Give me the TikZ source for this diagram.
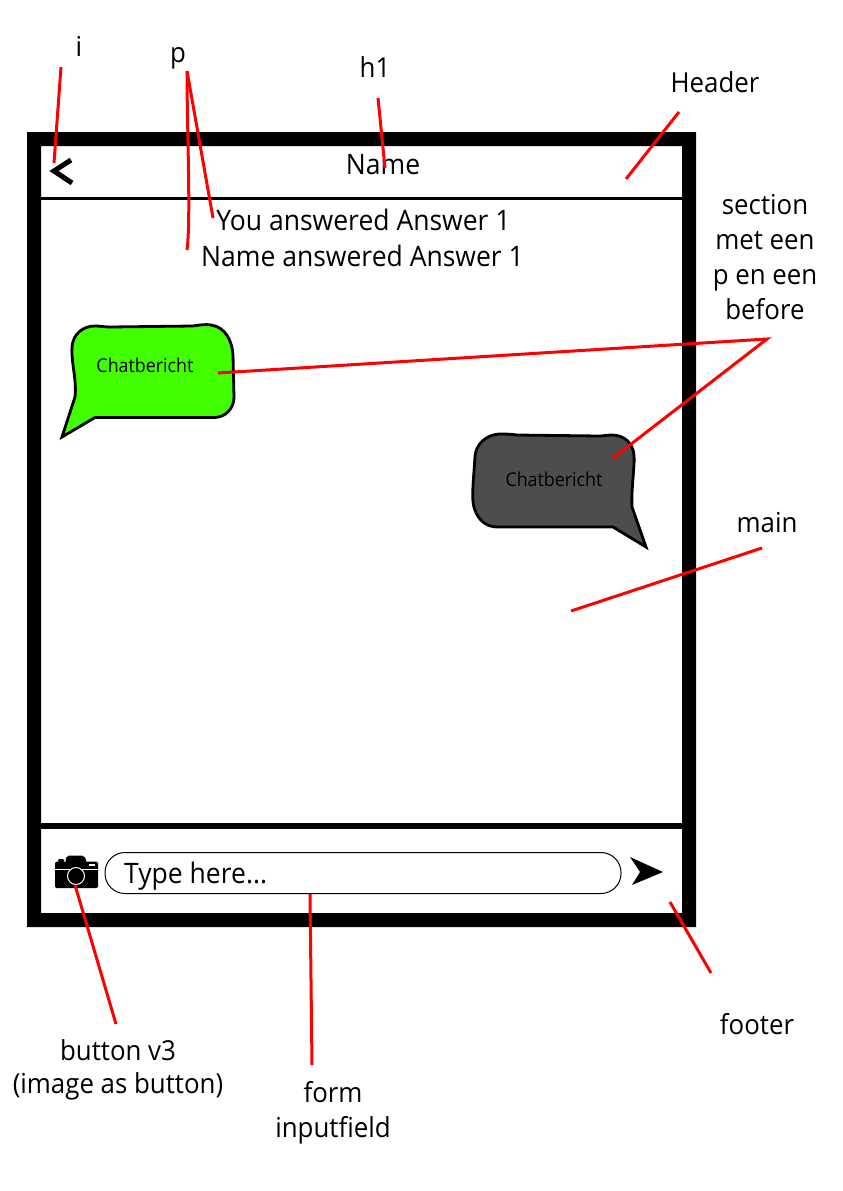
\documentclass[tikz,border=0pt]{standalone}
\usepackage{fontspec}
\setmainfont[FakeStretch=0.94]{Open Sans}
\newcommand{\fsA}{\fontsize{27.5}{32}\selectfont}
\newcommand{\fsB}{\fontsize{28.2}{32}\selectfont}
\newcommand{\fsC}{\fontsize{19}{23}\selectfont}
\definecolor{lead}{RGB}{255,0,0}
\definecolor{bubgreen}{RGB}{66,255,0}
\definecolor{bubgray}{RGB}{77,77,77}
\tikzset{
  lab/.style={font=\fsA,inner sep=0pt,text=black,anchor=base},
  txt/.style={font=\fsB,inner sep=0pt,text=black,anchor=base},
  chat/.style={font=\fsC,inner sep=0pt,text=black,anchor=base},
  leader/.style={draw=lead,line width=3pt},
  bubble/.style={draw=black,line width=2.8pt,line join=miter},
}
\begin{document}
\begin{tikzpicture}[x=1pt,y=-1pt]
\useasboundingbox (0,0) rectangle (843,1191);
% frame
\fill[black,even odd rule] (27,132) rectangle (696,927) (41,146) rectangle (682,913);
\coordinate (hl) at (41,198.5); \coordinate (hr) at (682,198.5);
\coordinate (fl) at (41,826); \coordinate (fr) at (682,826);
\draw[black,line width=3pt] (hl) -- (hr);
\draw[black,line width=6pt] (fl) -- (fr);
% back chevron
\draw[black,line width=5pt,miter limit=10] (71,160) -- (54,171) -- (72,183);
% texts
\node[txt] (name) at (383,174) {Name};
\node[txt] (you) at (363.5,230) {You answered Answer 1};
\node[txt] (nameans) at (362.5,266) {Name answered Answer 1};
% bubbles
\path[bubble,fill=bubgreen] (62,437) -- (75,397)
  .. controls (77,380) and (71,362) .. (72,347)
  .. controls (73,333) and (84,326) .. (95,326)
  .. controls (100,326) and (105,327) .. (110,327)
  -- (193,326)
  .. controls (200,325) and (205,324) .. (211,325)
  .. controls (225,327) and (232,340) .. (233,355)
  -- (234,397)
  .. controls (234,408) and (226,417.5) .. (214,417.5)
  -- (95,417.5) -- cycle;
\path[bubble,fill=bubgray] (646,547) -- (632,507)
  .. controls (631,490) and (635,465) .. (634,455)
  .. controls (633,444) and (625,435) .. (612,435)
  .. controls (607,435) and (603,436) .. (599,436)
  -- (517,435)
  .. controls (510,434) and (505,434) .. (499,434)
  .. controls (485,435) and (476,445) .. (475,456)
  .. controls (474,475) and (472,490) .. (473,502)
  .. controls (475,518) and (485,527) .. (497,527)
  -- (613,527) -- cycle;
\node[chat] (chatA) at (145,372) {Chatbericht};
\node[chat] (chatB) at (554,486) {Chatbericht};
% camera
\fill[black,rounded corners=1.5pt] (55,861.5) rectangle (98,888);
\fill[black,rounded corners=1pt] (58,862) -- (58,859) -- (64,859) -- (64,862) -- cycle;
\fill[black,rounded corners=2pt] (65,862) -- (67,855.5) -- (84,855.5) -- (87,862) -- cycle;
\fill[white] (55,869) rectangle (98,870);
\fill[white] (89,863.5) rectangle (95,865.5);
\node[circle,draw=white,fill=black,line width=1pt,minimum size=17pt,inner sep=0pt] (lens) at (76,876) {};
% input
\node[draw=black,line width=1pt,fill=white,rounded corners=20pt,minimum width=516pt,minimum height=41pt,inner sep=0pt] (input) at (363,873) {};
\node[txt,anchor=base west] (type) at (124,883) {Type here...};
% send
\fill[black] (630,857) -- (663,872) -- (632,885) -- (640,872) -- cycle;
% labels
\node[lab] (li) at (79,56) {i};
\node[lab] (lp) at (178,62) {p};
\node[lab] (lh) at (375,77) {h1};
\node[lab] (lheader) at (715,92) {Header};
\node[lab] (ls1) at (765,214) {section};
\node[lab] (ls2) at (765,249) {met een};
\node[lab] (ls3) at (765,284) {p en een};
\node[lab] (ls4) at (765,319) {before};
\node[lab] (lmain) at (767,532) {main};
\node[lab] (lfooter) at (757,1034) {footer};
\node[lab] (lb1) at (118,1060) {button v3};
\node[lab] (lb2) at (118,1093) {(image as button)};
\node[lab] (lf1) at (333,1102) {form};
\node[lab] (lf2) at (333,1137) {inputfield};
% leader ends
\coordinate (a1) at (61,67); \coordinate (a2) at (54,163);
\coordinate (b0) at (187,71); \coordinate (b1) at (213,218); \coordinate (b2) at (187,250);
\coordinate (c1) at (378,98); \coordinate (c2) at (385,168);
\coordinate (d1) at (679,112); \coordinate (d2) at (626,179);
\coordinate (e0) at (767,339); \coordinate (e1) at (218,373); \coordinate (e2) at (613,458);
\coordinate (f1) at (762,548); \coordinate (f2) at (571,611);
\coordinate (g1) at (670,902); \coordinate (g2) at (711,973);
\coordinate (h1) at (310,894); \coordinate (h2) at (312,1065);
\coordinate (k1) at (75,885); \coordinate (k2) at (116,1024);
\draw[leader] (a1) -- (a2);
\draw[leader] (b0) -- (b1);
\draw[leader] (b0) .. controls (187,130) and (191,220) .. (b2);
\draw[leader] (c1) -- (c2);
\draw[leader] (d1) -- (d2);
\draw[leader] (e1) -- (e0) -- (e2);
\draw[leader] (f1) -- (f2);
\draw[leader] (g1) -- (g2);
\draw[leader] (h1) -- (h2);
\draw[leader] (k1) -- (k2);
\end{tikzpicture}
\end{document}
